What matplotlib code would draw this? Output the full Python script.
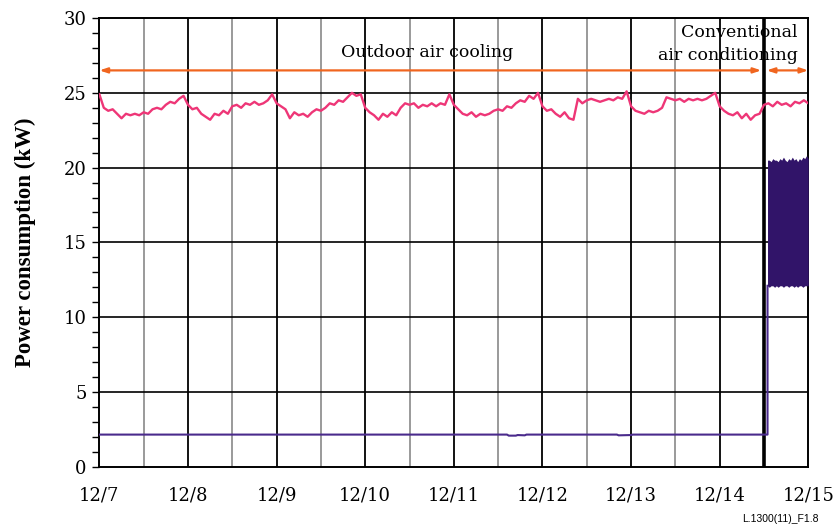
import numpy as np
import matplotlib.pyplot as plt

# x positions are days after 12/7
day_labels = ["12/7", "12/8", "12/9", "12/10", "12/11", "12/12", "12/13", "12/14", "12/15"]

sample_step = 0.05
outdoor_kw = [
    # 12/7
    24.9, 24.0, 23.8, 23.9, 23.6, 23.3, 23.6, 23.5, 23.6, 23.5,
    23.7, 23.6, 23.9, 24.0, 23.9, 24.2, 24.4, 24.3, 24.6, 24.8,
    # 12/8
    24.2, 23.9, 24.0, 23.6, 23.4, 23.2, 23.6, 23.5, 23.8, 23.6,
    24.1, 24.2, 24.0, 24.3, 24.2, 24.4, 24.2, 24.3, 24.5, 24.9,
    # 12/9
    24.3, 24.1, 23.9, 23.3, 23.7, 23.5, 23.6, 23.4, 23.7, 23.9,
    23.8, 24.0, 24.3, 24.2, 24.5, 24.4, 24.7, 25.0, 24.8, 24.9,
    # 12/10
    24.0, 23.7, 23.5, 23.2, 23.6, 23.4, 23.7, 23.5, 24.0, 24.3,
    24.2, 24.3, 24.0, 24.2, 24.1, 24.3, 24.1, 24.3, 24.2, 24.9,
    # 12/11
    24.2, 23.9, 23.6, 23.5, 23.7, 23.4, 23.6, 23.5, 23.6, 23.8,
    23.9, 23.8, 24.1, 24.0, 24.3, 24.5, 24.4, 24.8, 24.6, 25.0,
    # 12/12
    24.1, 23.8, 23.9, 23.6, 23.4, 23.7, 23.3, 23.2, 24.6, 24.3,
    24.5, 24.6, 24.5, 24.4, 24.5, 24.6, 24.5, 24.7, 24.6, 25.1,
    # 12/13
    24.1, 23.8, 23.7, 23.6, 23.8, 23.7, 23.8, 24.0, 24.7, 24.6,
    24.5, 24.6, 24.4, 24.6, 24.5, 24.6, 24.5, 24.6, 24.8, 25.0,
    # 12/14
    24.1, 23.8, 23.6, 23.5, 23.7, 23.3, 23.6, 23.2, 23.5, 23.6,
    24.2, 24.3, 24.1, 24.4, 24.2, 24.3, 24.1, 24.4, 24.3, 24.5,
    # 12/15
    24.3,
]

# Air-handling power: low until the switch, then cycling compressor band
fan_t = [0.0, 4.60, 4.62, 4.70, 4.72, 4.80, 4.82, 5.84, 5.86, 6.00, 6.02, 7.54]
fan_kw = [2.15, 2.15, 2.08, 2.08, 2.12, 2.10, 2.15, 2.15, 2.10, 2.12, 2.15, 2.15]

switch_day = 7.54
band_t = [7.54, 7.56, 7.58, 7.60, 7.62, 7.64, 7.66, 7.68, 7.70, 7.72, 7.74, 7.76,
          7.78, 7.80, 7.82, 7.84, 7.86, 7.88, 7.90, 7.92, 7.94, 7.96, 7.98, 8.00]
band_hi = [20.5, 20.5, 20.4, 20.6, 20.5, 20.5, 20.4, 20.6, 20.5, 20.7, 20.5, 20.4,
           20.6, 20.5, 20.7, 20.5, 20.6, 20.4, 20.6, 20.5, 20.7, 20.6, 20.8, 20.6]
band_lo = [12.1, 12.0, 12.1, 12.1, 12.0, 12.1, 12.0, 12.1, 12.1, 12.0, 12.1, 12.1,
           12.0, 12.1, 12.1, 12.0, 12.1, 12.0, 12.1, 12.1, 12.0, 12.1, 12.1, 12.1]

mode_y = 26.5
mode_split = 7.5

PINK = "#ee3677"
PURPLE = "#311469"
ORANGE = "#f0651f"
SERIF = ["DejaVu Serif"]

fig = plt.figure(figsize=(8.35, 5.31), dpi=100)
ax = fig.add_axes([0.119, 0.121, 0.849, 0.845])

# grid: half days grey, full days black, switch-over line heavy
for d in np.arange(0.5, 8, 1.0):
    if abs(d - mode_split) > 1e-6:
        ax.axvline(d, color="#9a9a9a", lw=1.4, zorder=1)
for d in range(1, 8):
    ax.axvline(d, color="black", lw=1.3, zorder=1)
ax.axvline(mode_split, color="black", lw=2.6, zorder=1)
for v in range(5, 30, 5):
    ax.axhline(v, color="black", lw=1.2, zorder=1)

t = np.arange(len(outdoor_kw)) * sample_step
ax.plot(t, outdoor_kw, color=PINK, lw=1.7, zorder=3)

ax.plot(fan_t + [switch_day], fan_kw + [band_lo[0]], color="#4a2a8c", lw=1.5, zorder=3)
ax.fill_between(band_t, band_lo, band_hi, color=PURPLE, lw=0, zorder=3)

arrow = dict(arrowstyle="<|-|>,head_length=0.45,head_width=0.15", color=ORANGE,
             lw=1.6, shrinkA=0, shrinkB=0)
ax.annotate("", xy=(mode_split - 0.03, mode_y), xytext=(0, mode_y), arrowprops=arrow, zorder=4)
ax.annotate("", xy=(8, mode_y), xytext=(mode_split + 0.03, mode_y), arrowprops=arrow, zorder=4)

ax.text(3.7, 27.7, "Outdoor air cooling", ha="center", va="center", fontsize=12.5, family=SERIF)
ax.text(7.88, 29.05, "Conventional", ha="right", va="center", fontsize=12.5, family=SERIF)
ax.text(7.88, 27.5, "air conditioning", ha="right", va="center", fontsize=12.5, family=SERIF)

ax.set_xlim(0, 8)
ax.set_ylim(0, 30)
ax.set_xticks(range(9))
ax.set_xticklabels(day_labels, family=SERIF, fontsize=13)
ax.set_yticks(range(0, 31, 5))
ax.set_yticklabels([str(v) for v in range(0, 31, 5)], family=SERIF, fontsize=13)
ax.set_yticks(range(0, 31), minor=True)
ax.tick_params(axis="x", length=0, pad=14)
ax.tick_params(axis="y", which="both", length=5, width=1, pad=4, direction="out")
for s in ax.spines.values():
    s.set_linewidth(1.4)

ax.set_ylabel("Power consumption (kW)", family=["Liberation Serif"], fontweight="bold",
              fontsize=16.5, labelpad=20)

fig.text(0.935, 0.022, "L.1300(11)_F1.8", ha="center", va="center", fontsize=7.5,
         family=["Liberation Sans"])

fig.savefig("out.png", dpi=100)
